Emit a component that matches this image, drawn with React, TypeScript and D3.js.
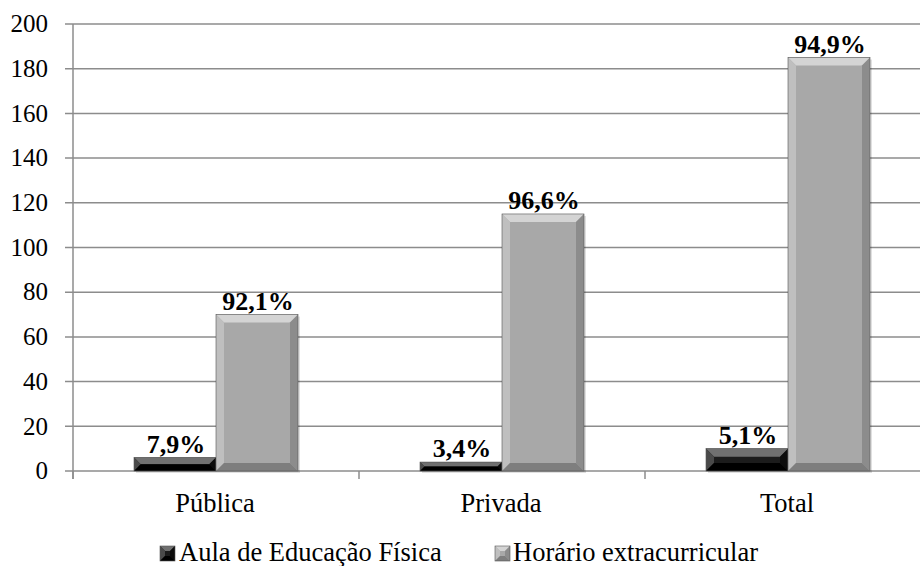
import React from "react";
import * as d3 from "d3";

const categories = ["Pública", "Privada", "Total"];
const seriesNames = ["Aula de Educação Física", "Horário extracurricular"];
const aulaValues = [6, 4, 10];
const horarioValues = [70, 115, 185];
const aulaLabels = ["7,9%", "3,4%", "5,1%"];
const horarioLabels = ["92,1%", "96,6%", "94,9%"];
const yTicks = [0, 20, 40, 60, 80, 100, 120, 140, 160, 180, 200];

const W = 920, H = 566;
const left = 73, right = 931, top = 24, bottom = 471;
const FONT = "'Liberation Serif', 'Times New Roman', serif";

const palettes = [
  { face: "#1c1c1c", topE: "#707070", leftE: "#4a4a4a", rightE: "#0c0c0c", botE: "#000" },
  { face: "#a8a8a8", topE: "#d4d4d4", leftE: "#bfbfbf", rightE: "#8c8c8c", botE: "#7e7e7e" },
];

function BevelBar({ x, y, w, h, p, bev = 8, shadow = true }: any) {
  const b = Math.min(bev, h / 2, w / 2);
  const x2 = x + w, y2 = y + h;
  return (
    <g>
      {shadow && <rect x={x + 2} y={y + 2} width={w} height={h} fill="#000" opacity={0.12} />}
      <rect x={x} y={y} width={w} height={h} fill={p.face} />
      <polygon points={`${x},${y} ${x2},${y} ${x2 - b},${y + b} ${x + b},${y + b}`} fill={p.topE} />
      <polygon points={`${x},${y} ${x + b},${y + b} ${x + b},${y2 - b} ${x},${y2}`} fill={p.leftE} />
      <polygon points={`${x2},${y} ${x2},${y2} ${x2 - b},${y2 - b} ${x2 - b},${y + b}`} fill={p.rightE} />
      <polygon points={`${x},${y2} ${x + b},${y2 - b} ${x2 - b},${y2 - b} ${x2},${y2}`} fill={p.botE} />
      <rect x={x} y={y} width={w} height={h} fill="none" stroke="#555" strokeWidth={0.6} />
    </g>
  );
}

export default function App() {
  const x = d3.scaleBand<string>().domain(categories).range([left, right]);
  const y = d3.scaleLinear().domain([0, 200]).range([bottom, top]);
  const barW = 82;
  const series = [aulaValues, horarioValues];
  const labels = [aulaLabels, horarioLabels];
  const legendX = [160, 495];
  return (
    <svg width={W} height={H} style={{ position: "absolute", left: 0, top: 0, background: "#fff" }}>
      <rect width={W} height={H} fill="#fff" />
      {yTicks.map((t) => (
        <g key={t}>
          <line x1={65} x2={W} y1={y(t)} y2={y(t)} stroke="#8c8c8c" strokeWidth={1.5} />
          <text x={48} y={y(t)} dy="0.33em" textAnchor="end" fontFamily={FONT} fontSize={25}>
            {t}
          </text>
        </g>
      ))}
      <line x1={left} x2={left} y1={top} y2={bottom + 8} stroke="#8c8c8c" strokeWidth={1.5} />
      {[...categories.map((c) => x(c)!), right].map((tx, i) => (
        <line key={i} x1={tx} x2={tx} y1={bottom} y2={bottom + 8} stroke="#8c8c8c" strokeWidth={1.5} />
      ))}
      {categories.map((c, ci) => {
        const cx = x(c)! + x.bandwidth() / 2;
        return (
          <g key={c}>
            {series.map((vals, si) => {
              const bx = cx - barW + si * barW;
              const by = y(vals[ci]);
              return (
                <g key={si}>
                  <BevelBar x={bx} y={by} w={barW} h={bottom - by} p={palettes[si]} />
                  <text x={bx + barW / 2 + 1} y={by - 5} textAnchor="middle" fontFamily={FONT} fontWeight="bold" fontSize={26}>
                    {labels[si][ci]}
                  </text>
                </g>
              );
            })}
            <text x={cx - 1} y={512} textAnchor="middle" fontFamily={FONT} fontSize={26.5}>
              {c}
            </text>
          </g>
        );
      })}
      {seriesNames.map((n, i) => {
        const lx = legendX[i];
        return (
          <g key={n}>
            <BevelBar x={lx} y={546} w={15} h={15} p={palettes[i]} bev={5} shadow={false} />
            <text x={lx + (i === 0 ? 19 : 18)} y={561} fontFamily={FONT} fontSize={26.5}>
              {n}
            </text>
          </g>
        );
      })}
    </svg>
  );
}
